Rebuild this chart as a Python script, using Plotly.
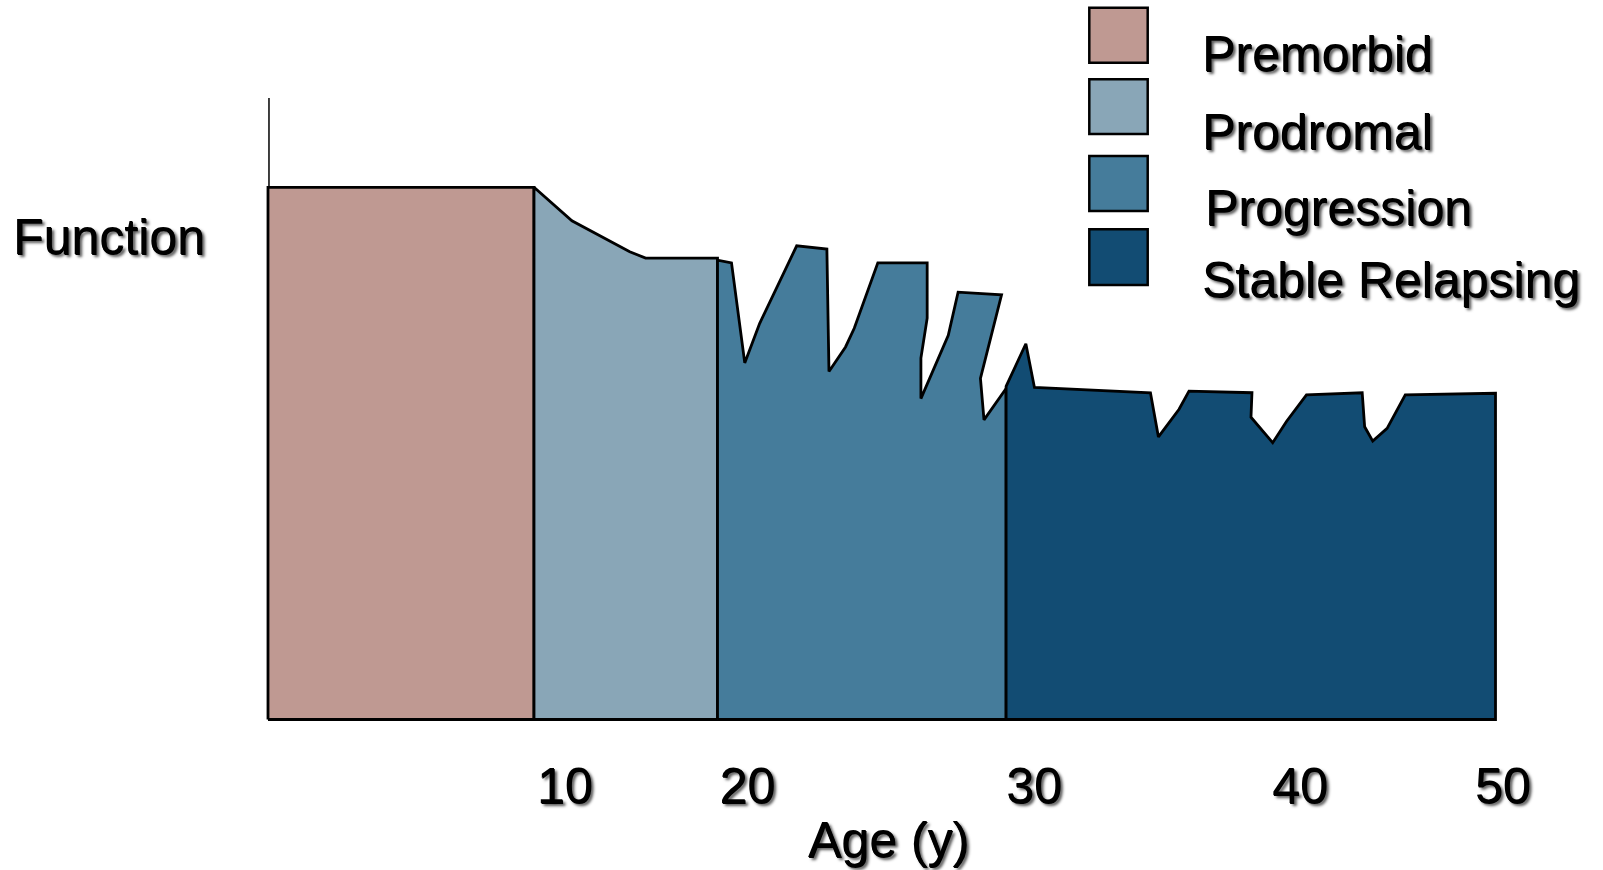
import plotly.graph_objects as go

# ---------------- data (schematic timeline position 0-100, function 0-100) ----------------
phases = ["Premorbid", "Prodromal", "Progression", "Stable Relapsing"]
colors = ["#BF9992", "#89A6B7", "#457C9B", "#124C73"]

premorbid_t = [0, 21.67]
premorbid_f = [100, 100]

prodromal_t = [21.67, 24.76, 29.47, 30.76, 36.62]
prodromal_f = [100, 93.7, 87.9, 86.7, 86.7]

progression_t = [36.62, 37.76, 38.84, 40.05, 41.91, 43.07, 45.53, 45.70, 47.05, 47.76,
                 49.68, 53.70, 53.70, 53.19, 53.19, 55.42, 56.22, 59.76, 58.04, 58.33, 60.13]
progression_f = [86.3, 85.8, 67.0, 74.4, 83.5, 89.0, 88.4, 65.4, 70.0, 73.5,
                 85.8, 85.8, 75.4, 67.9, 60.3, 72.2, 80.3, 79.8, 64.1, 56.3, 62.2]

stable_t = [60.13, 61.74, 62.44, 71.89, 72.54, 74.22, 75.03, 80.16, 80.08, 81.85,
            82.97, 84.60, 89.14, 89.34, 90.00, 91.17, 92.65, 100]
stable_f = [62.6, 70.6, 62.4, 61.4, 53.1, 58.3, 61.7, 61.4, 56.8, 52.0,
            56.0, 61.0, 61.4, 55.0, 52.3, 54.7, 61.0, 61.3]

age_tick_pos = [24.18, 39.05, 62.40, 84.07, 100.6]
age_tick_labels = ["10", "20", "30", "40", "50"]

y_axis_top = 116.8  # top of the vertical axis line (function units)

# ---------------- figure ----------------
W, H = 1603, 870
FONT = "Liberation Sans, Arial, sans-serif"
SHADOW = "0.7px 0.7px 0px black, 3px 3px 3px rgba(0,0,0,0.65)"

def px(x):
    return x / W

def py(y):
    return 1 - y / H

fig = go.Figure()

tops = [(premorbid_t, premorbid_f), (prodromal_t, prodromal_f),
        (progression_t, progression_f), (stable_t, stable_f)]
for name, col, (tt, ff) in zip(phases, colors, tops):
    xs = [tt[0]] + list(tt) + [tt[-1], tt[0]]
    ys = [0] + list(ff) + [0, 0]
    fig.add_trace(go.Scatter(
        x=xs, y=ys, mode="lines", fill="toself", fillcolor=col,
        line=dict(color="black", width=2.8), name=name, showlegend=False,
        hoverinfo="skip"))

# vertical axis line
fig.add_shape(type="line", xref="x", yref="y", x0=0.08, x1=0.08, y0=0, y1=y_axis_top,
              line=dict(color="black", width=1.5), layer="below")

# legend boxes and labels
box_y = [(7.7, 62.7), (79.3, 134), (156, 211), (229.3, 285)]
label_y = [54, 131.5, 208, 280]
label_x = [1200, 1200, 1203, 1200]
for name, col, (y0, y1), ly, lx in zip(phases, colors, box_y, label_y, label_x):
    fig.add_shape(type="rect", xref="paper", yref="paper",
                  x0=px(1089.3), x1=px(1147.7), y0=py(y1), y1=py(y0),
                  fillcolor=col, line=dict(color="black", width=2.5))
    fig.add_annotation(x=px(lx), y=py(ly), xref="paper", yref="paper", text=name,
                       showarrow=False, xanchor="left", yanchor="middle",
                       font=dict(family=FONT, size=50, color="black", shadow=SHADOW))

fig.add_annotation(x=px(109), y=py(237), xref="paper", yref="paper", text="Function",
                   showarrow=False, xanchor="center", yanchor="middle",
                   font=dict(family=FONT, size=50, color="black", shadow=SHADOW))
fig.add_annotation(x=px(888), y=py(839.5), xref="paper", yref="paper", text="Age (y)",
                   showarrow=False, xanchor="center", yanchor="middle",
                   font=dict(family=FONT, size=50, color="black", shadow=SHADOW))

# axis ranges: t=0 -> 268px, t=100 -> 1495.5px ; f=0 -> 719.5px, f=100 -> 187.3px
ppu_x = (1495.5 - 268) / 100
ppu_y = (719.5 - 187.3) / 100
dom_bottom_px = 745
x_range = [-268 / ppu_x, (W - 268) / ppu_x]
y_range = [(719.5 - dom_bottom_px) / ppu_y, 719.5 / ppu_y]

fig.update_layout(
    width=W, height=H,
    margin=dict(l=0, r=0, t=0, b=0),
    paper_bgcolor="white", plot_bgcolor="white",
    showlegend=False,
    xaxis=dict(range=x_range, domain=[0, 1], showgrid=False, zeroline=False,
               showline=False, ticks="", tickmode="array",
               tickvals=age_tick_pos, ticktext=age_tick_labels,
               tickfont=dict(family=FONT, size=50, color="black", shadow=SHADOW),
               ticklabelstandoff=7, fixedrange=True),
    yaxis=dict(range=y_range, domain=[1 - dom_bottom_px / H, 1], showgrid=False,
               zeroline=False, showline=False, showticklabels=False, ticks="",
               fixedrange=True),
)

fig.write_html("out.html")
